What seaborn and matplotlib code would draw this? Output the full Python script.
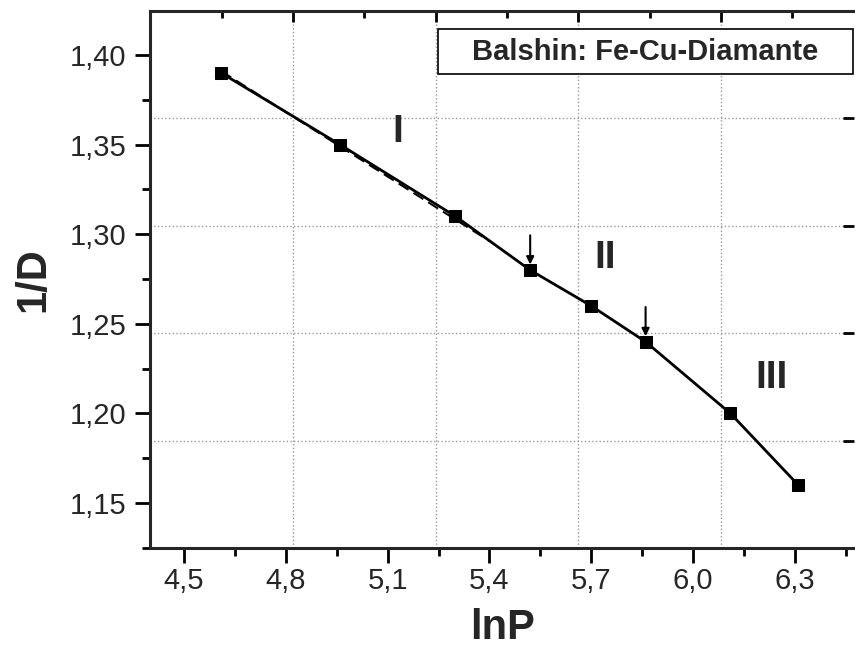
import numpy as np
import seaborn as sns
import matplotlib.pyplot as plt
from matplotlib.ticker import MultipleLocator, FuncFormatter, NullLocator
from matplotlib.patches import Rectangle

# Datos: compactación Balshin, Fe-Cu-Diamante
lnP = [4.61, 4.96, 5.30, 5.52, 5.70, 5.86, 6.11, 6.31]
inv_D = [1.39, 1.35, 1.31, 1.28, 1.26, 1.24, 1.20, 1.16]
tramo_I = 4          # puntos usados para el ajuste del tramo I
fin_ajuste = 5.40    # hasta donde se prolonga la recta discontinua
flechas = [3, 5]     # índices de los puntos marcados con flecha
etiquetas = {'I': (5.13, 1.357), 'II': (5.74, 1.287), 'III': (6.232, 1.220)}

sns.set_style('ticks')
plt.rcParams['font.family'] = ['Liberation Sans', 'DejaVu Sans']

fig = plt.figure(figsize=(8.55, 6.58), dpi=100)
pos = [150 / 855, 1 - 548 / 658, 704 / 855, 537 / 658]

# Capa de rejilla (ejes superior y derecho, desplazados como en el original)
ax_g = fig.add_axes(pos)
ax_g.set_xlim(-2.006, 7.868)
ax_g.set_ylim(3.996, -0.994)
ax_g.xaxis.set_major_locator(MultipleLocator(2))
ax_g.xaxis.set_minor_locator(MultipleLocator(1))
ax_g.yaxis.set_major_locator(MultipleLocator(1))
ax_g.yaxis.set_minor_locator(NullLocator())
ax_g.xaxis.tick_top()
ax_g.yaxis.tick_right()
ax_g.tick_params(which='both', direction='in', labeltop=False, labelright=False,
                 width=2, color='black')
ax_g.tick_params(which='major', length=8)
ax_g.tick_params(which='minor', length=5)
ax_g.grid(True, which='major', linestyle=':', color='#999999', linewidth=1)
for s in ['left', 'bottom', 'right']:
    ax_g.spines[s].set_visible(False)
ax_g.spines['top'].set_linewidth(2.2)
ax_g.set_zorder(0)

# Capa de datos
ax = fig.add_axes(pos)
ax.set_zorder(1)
ax.patch.set_visible(False)

sns.lineplot(x=lnP, y=inv_D, ax=ax, color='black', linewidth=2,
             marker='s', markersize=8.5, markeredgecolor='black')

coef = np.polyfit(lnP[:tramo_I], inv_D[:tramo_I], 1)
xs = np.array([lnP[0], fin_ajuste])
ax.plot(xs, np.polyval(coef, xs), color='black', linestyle='--', linewidth=1.4,
        dashes=(6, 3))

for i in flechas:
    ax.annotate('', xy=(lnP[i], inv_D[i]), xytext=(0, 25), textcoords='offset points',
                arrowprops=dict(arrowstyle='-|>', color='black', lw=1.5,
                                shrinkA=0, shrinkB=4, mutation_scale=11))

for txt, (tx, ty) in etiquetas.items():
    ax.text(tx, ty, txt, fontsize=28, fontweight='bold', ha='center', va='center')

ax.add_patch(Rectangle((0.409, 0.8825), 0.589, 0.084, transform=ax.transAxes,
                       facecolor='white', edgecolor='black', linewidth=1.2, zorder=5))
ax.text(0.7035, 0.924, 'Balshin: Fe-Cu-Diamante', transform=ax.transAxes,
        fontsize=21, fontweight='bold', ha='center', va='center', zorder=6)

ax.set_xlim(4.40, 6.474)
ax.set_ylim(1.1249, 1.4246)
ax.xaxis.set_major_locator(MultipleLocator(0.3))
ax.xaxis.set_minor_locator(MultipleLocator(0.15))
ax.yaxis.set_major_locator(MultipleLocator(0.05))
ax.yaxis.set_minor_locator(MultipleLocator(0.025))
ax.xaxis.set_major_formatter(FuncFormatter(lambda v, p: f'{v:.1f}'.replace('.', ',')))
ax.yaxis.set_major_formatter(FuncFormatter(lambda v, p: f'{v:.2f}'.replace('.', ',')))
ax.tick_params(which='both', direction='out', width=2, color='black',
               labelsize=21, top=False, right=False)
ax.tick_params(which='major', length=11)
ax.tick_params(which='minor', length=6)
ax.tick_params(axis='y', pad=6)
ax.tick_params(axis='x', pad=3)
for s in ['top', 'right']:
    ax.spines[s].set_visible(False)
for s in ['left', 'bottom']:
    ax.spines[s].set_linewidth(2.2)

ax.set_xlabel('lnP', fontsize=30, fontweight='bold', labelpad=9)
ax.set_ylabel('1/D', fontsize=30, fontweight='bold', labelpad=12)

fig.savefig('out.png', dpi=100)
